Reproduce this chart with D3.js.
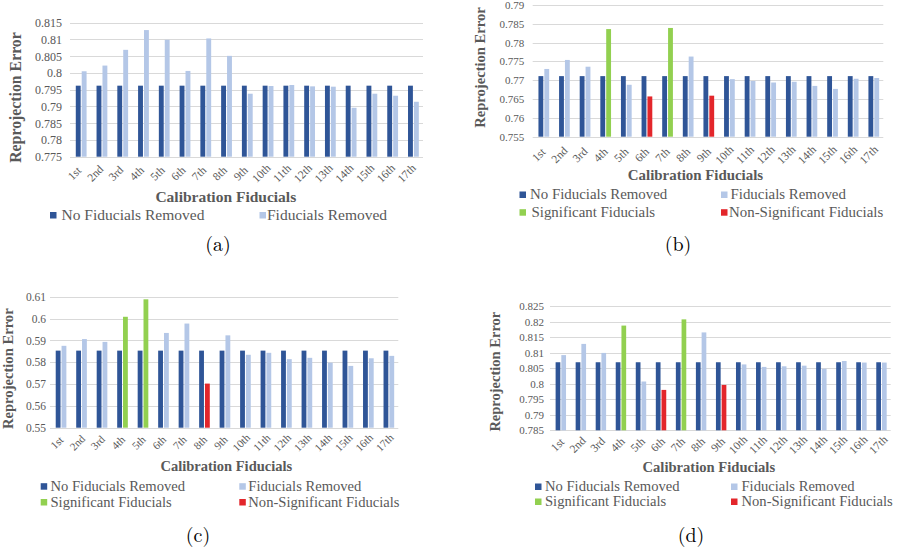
<!DOCTYPE html>
<html><head><meta charset="utf-8">
<script src="https://cdn.jsdelivr.net/npm/d3@7"></script>
<style>
html,body{margin:0;padding:0;background:#fff;}
svg{display:block;}
</style></head>
<body>
<svg id="fig" width="902" height="553"></svg>
<script>
// ---------- DATA ----------
const categories = ["1st","2nd","3rd","4th","5th","6th","7th","8th","9th","10th","11th","12th","13th","14th","15th","16th","17th"];

// (a)
const yTicksA = [0.775,0.78,0.785,0.79,0.795,0.8,0.805,0.81,0.815];
const noRemovedA = [0.7962,0.7962,0.7962,0.7962,0.7962,0.7962,0.7962,0.7962,0.7962,0.7962,0.7962,0.7962,0.7962,0.7962,0.7962,0.7962,0.7962];
const removedA   = [0.8005,0.8022,0.8069,0.8128,0.8099,0.8006,0.8103,0.8051,0.7938,0.7961,0.7964,0.7960,0.7959,0.7896,0.7938,0.7932,0.7914];
const statusA    = ["","","","","","","","","","","","","","","","",""];

// (b)
const yTicksB = [0.755,0.76,0.765,0.77,0.775,0.78,0.785,0.79];
const noRemovedB = [0.7711,0.7711,0.7711,0.7711,0.7711,0.7711,0.7711,0.7711,0.7711,0.7711,0.7711,0.7711,0.7711,0.7711,0.7711,0.7711,0.7711];
const removedB   = [0.7730,0.7754,0.7736,0.7836,0.7688,0.7657,0.7839,0.7763,0.7659,0.7703,0.7698,0.7694,0.7696,0.7685,0.7677,0.7704,0.7706];
const statusB    = ["","","","sig","","non","sig","","non","","","","","","","",""];

// (c)
const yTicksC = [0.55,0.56,0.57,0.58,0.59,0.6,0.61];
const noRemovedC = [0.5853,0.5853,0.5853,0.5853,0.5853,0.5853,0.5853,0.5853,0.5853,0.5853,0.5853,0.5853,0.5853,0.5853,0.5853,0.5853,0.5853];
const removedC   = [0.5875,0.5906,0.5893,0.6008,0.6088,0.5934,0.5977,0.5702,0.5923,0.5834,0.5843,0.5814,0.5820,0.5798,0.5783,0.5818,0.5829];
const statusC    = ["","","","sig","sig","","","non","","","","","","","","",""];

// (d)
const yTicksD = [0.785,0.79,0.795,0.8,0.805,0.81,0.815,0.82,0.825];
const noRemovedD = [0.8069,0.8069,0.8069,0.8069,0.8069,0.8069,0.8069,0.8069,0.8069,0.8069,0.8069,0.8069,0.8069,0.8069,0.8069,0.8069,0.8069];
const removedD   = [0.8092,0.8128,0.8099,0.8187,0.8007,0.7980,0.8207,0.8165,0.7996,0.8062,0.8054,0.8056,0.8058,0.8048,0.8073,0.8068,0.8068];
const statusD    = ["","","","sig","","non","sig","","non","","","","","","","",""];

const seriesNames = ["No Fiducials Removed","Fiducials Removed","Significant Fiducials","Non-Significant Fiducials"];
const captions = ["(a)","(b)","(c)","(d)"];
const yTitle = "Reprojection Error";
const xTitle = "Calibration Fiducials";

// ---------- STYLE ----------
const COL = {dark:"#2F5597", light:"#B4C7E7", sig:"#92D050", non:"#E3262B", grid:"#D9D9D9", text:"#595959"};
const SERIF = "'Liberation Serif','Times New Roman',serif";

// ---------- LAYOUT ----------
const panels = [
  {noRem:noRemovedA, rem:removedA, status:statusA, ticks:yTicksA,
   left:70, right:423, top:22.7, bottom:156.7, tickFs:12, tickOff:8, xlabFs:11.5, xlabDx:-6, xlabDy:16.5,
   titleFs:15.5, xTitleX:225.8, xTitleY:201.5, yTitleFs:15.8, yTitleX:20.8, yTitleY:97.5,
   legendFs:15.5, legendRows:[[{i:0,sx:50,tx:61.5},{i:1,sx:259.5,tx:267}]], legendY:[219.5],
   cap:{x:218,y:251}},
  {noRem:noRemovedB, rem:removedB, status:statusB, ticks:yTicksB,
   left:532.7, right:883.3, top:5, bottom:136.7, tickFs:11, tickOff:8.5, xlabFs:11.5, xlabDx:-4.3, xlabDy:18,
   titleFs:14.9, xTitleX:695.5, xTitleY:180, yTitleFs:14.6, yTitleX:484.8, yTitleY:67.5,
   legendFs:14.9,
   legendRows:[[{i:0,sx:519.5,tx:530},{i:1,sx:721,tx:730.5}],[{i:2,sx:519.5,tx:531.5},{i:3,sx:721,tx:729}]], legendY:[199,216.7],
   cap:{x:678,y:251}},
  {noRem:noRemovedC, rem:removedC, status:statusC, ticks:yTicksC,
   left:50, right:398.3, top:296.7, bottom:427.7, tickFs:11.5, tickOff:4, xlabFs:11, xlabDx:-3.5, xlabDy:14.8,
   titleFs:14.5, xTitleX:226.3, xTitleY:470.5, yTitleFs:14.6, yTitleX:12.5, yTitleY:368.7,
   legendFs:14.6,
   legendRows:[[{i:0,sx:40.7,tx:50.5},{i:1,sx:239.3,tx:248.3}],[{i:2,sx:40.7,tx:50.5},{i:3,sx:239.3,tx:248.3}]], legendY:[490.7,506.5],
   cap:{x:198,y:542}},
  {noRem:noRemovedD, rem:removedD, status:statusD, ticks:yTicksD,
   left:550, right:890.7, top:306, bottom:430.3, tickFs:11, tickOff:6, xlabFs:11.5, xlabDx:-2.5, xlabDy:14.3,
   titleFs:14.6, xTitleX:708.8, xTitleY:471.5, yTitleFs:14.5, yTitleX:500.2, yTitleY:371.7,
   legendFs:14.6,
   legendRows:[[{i:0,sx:535,tx:545},{i:1,sx:731,tx:741.5}],[{i:2,sx:535,tx:545},{i:3,sx:731,tx:741.5}]], legendY:[491,506],
   cap:{x:691,y:542}}
];

const svg = d3.select("#fig");
const legendColors = [COL.dark, COL.light, COL.sig, COL.non];

panels.forEach((p, pi) => {
  const g = svg.append("g");
  const y = d3.scaleLinear().domain([p.ticks[0], p.ticks[p.ticks.length-1]]).range([p.bottom, p.top]);
  const x = d3.scaleBand().domain(categories).range([p.left, p.right]).paddingInner(0).paddingOuter(0);

  // gridlines
  g.append("g").selectAll("line").data(p.ticks).join("line")
    .attr("x1", p.left).attr("x2", p.right)
    .attr("y1", d => Math.round(y(d))+0.5).attr("y2", d => Math.round(y(d))+0.5)
    .attr("stroke", COL.grid).attr("stroke-width", 1);

  // y axis labels
  const yAxis = d3.axisLeft(y).tickValues(p.ticks).tickSize(0).tickPadding(0)
    .tickFormat(d => String(+d.toFixed(3)));
  const ya = g.append("g").attr("transform", `translate(${p.left-p.tickOff},0)`).call(yAxis);
  ya.select(".domain").remove();
  ya.selectAll("text").attr("font-family", SERIF).attr("font-size", p.tickFs).attr("fill", COL.text);

  // bars
  const bw = x.bandwidth()*0.235, gap = x.bandwidth()*0.05;
  const bars = g.append("g");
  bars.selectAll("rect.dark").data(categories).join("rect").attr("class","dark")
    .attr("x", (c) => x(c) + x.bandwidth()/2 - bw - gap/2 + 0.8)
    .attr("width", bw)
    .attr("y", (c,i) => y(p.noRem[i]))
    .attr("height", (c,i) => p.bottom - y(p.noRem[i]))
    .attr("fill", COL.dark);
  bars.selectAll("rect.light").data(categories).join("rect").attr("class","light")
    .attr("x", (c) => x(c) + x.bandwidth()/2 + gap/2 + 0.8)
    .attr("width", bw)
    .attr("y", (c,i) => y(p.rem[i]))
    .attr("height", (c,i) => p.bottom - y(p.rem[i]))
    .attr("fill", (c,i) => p.status[i]==="sig" ? COL.sig : p.status[i]==="non" ? COL.non : COL.light);

  // x labels rotated
  const xa = g.append("g").attr("transform", `translate(0,${p.bottom})`)
    .call(d3.axisBottom(x).tickSize(0).tickPadding(0));
  xa.select(".domain").remove();
  xa.selectAll("text")
    .attr("font-family", SERIF).attr("font-size", p.xlabFs).attr("fill", COL.text)
    .attr("text-anchor","middle").attr("dy", null).attr("y", 0).attr("x", 0)
    .attr("transform", `translate(${p.xlabDx},${p.xlabDy}) rotate(-45)`)
    .attr("dominant-baseline","central");

  // titles
  g.append("text").attr("x", p.xTitleX).attr("y", p.xTitleY)
    .attr("text-anchor","middle").attr("font-family", SERIF).attr("font-weight","bold")
    .attr("font-size", p.titleFs).attr("fill", COL.text).text(xTitle);
  g.append("text").attr("transform", `translate(${p.yTitleX},${p.yTitleY}) rotate(-90)`)
    .attr("text-anchor","middle").attr("font-family", SERIF).attr("font-weight","bold")
    .attr("font-size", p.yTitleFs).attr("fill", COL.text).text(yTitle);

  // legend
  p.legendRows.forEach((row, ri) => {
    row.forEach(it => {
      g.append("rect").attr("x", it.sx).attr("y", p.legendY[ri]-7.5).attr("width",6.5).attr("height",6.5)
        .attr("fill", legendColors[it.i]);
      g.append("text").attr("x", it.tx).attr("y", p.legendY[ri])
        .attr("font-family", SERIF).attr("font-size", p.legendFs).attr("fill", COL.text)
        .text(seriesNames[it.i]);
    });
  });

  // caption
  g.append("text").attr("x", p.cap.x).attr("y", p.cap.y).attr("text-anchor","middle")
    .attr("font-family", "'Latin Modern Roman','CMU Serif','DejaVu Serif',serif").attr("font-size", 20)
    .attr("fill","#000").text(captions[pi]);
});
</script>
</body></html>
